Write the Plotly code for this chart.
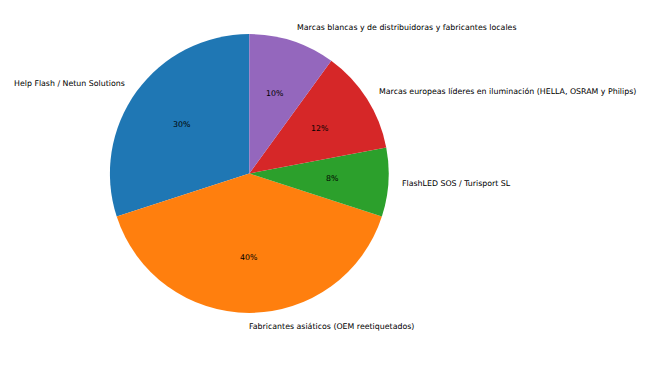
import math
import plotly.graph_objects as go

labels = [
    "Help Flash / Netun Solutions",
    "Fabricantes asiáticos (OEM reetiquetados)",
    "FlashLED SOS / Turisport SL",
    "Marcas europeas líderes en iluminación (HELLA, OSRAM y Philips)",
    "Marcas blancas y de distribuidoras y fabricantes locales",
]
values = [30, 40, 8, 12, 10]
colors = ["#1f77b4", "#ff7f0e", "#2ca02c", "#d62728", "#9467bd"]

W, H = 654, 391
cx, cy, r = 249.3, 173.5, 139.4  # pixel center (from top) and radius
FONT = dict(family="DejaVu Sans", size=7.85, color="#000000")

x0 = (cx - r) / W
x1 = (cx + r) / W
y0 = (H - cy - r) / H
y1 = (H - cy + r) / H

total = sum(values)

fig = go.Figure(
    go.Pie(
        labels=labels,
        values=values,
        sort=False,
        direction="counterclockwise",
        rotation=-360.0 * values[0] / total,
        marker=dict(colors=colors, line=dict(width=0)),
        textinfo="none",
        hoverinfo="label+percent",
        domain=dict(x=[x0, x1], y=[y0, y1]),
        showlegend=False,
    )
)

start = 90.0
annotations = []
for lab, v in zip(labels, values):
    span = 360.0 * v / total
    mid = math.radians(start + span / 2)
    start += span
    c, s = math.cos(mid), math.sin(mid)
    lx = cx + 1.1 * r * c
    ly = cy - 1.1 * r * s
    annotations.append(dict(
        x=lx / W, y=(H - ly) / H, xref="paper", yref="paper",
        text=lab, showarrow=False, font=FONT,
        borderpad=0, borderwidth=0,
        xanchor="left" if c > -1e-9 else "right", yanchor="middle",
    ))
    px = cx + 0.6 * r * c
    py = cy - 0.6 * r * s
    annotations.append(dict(
        x=px / W, y=(H - py) / H, xref="paper", yref="paper",
        text=f"{round(100 * v / total)}%", showarrow=False, font=FONT,
        borderpad=0, borderwidth=0,
        xanchor="center", yanchor="middle",
    ))

fig.update_layout(
    width=W, height=H,
    margin=dict(l=0, r=0, t=0, b=0),
    paper_bgcolor="white",
    plot_bgcolor="white",
    annotations=annotations,
    font=FONT,
)

fig.write_html("out.html")
